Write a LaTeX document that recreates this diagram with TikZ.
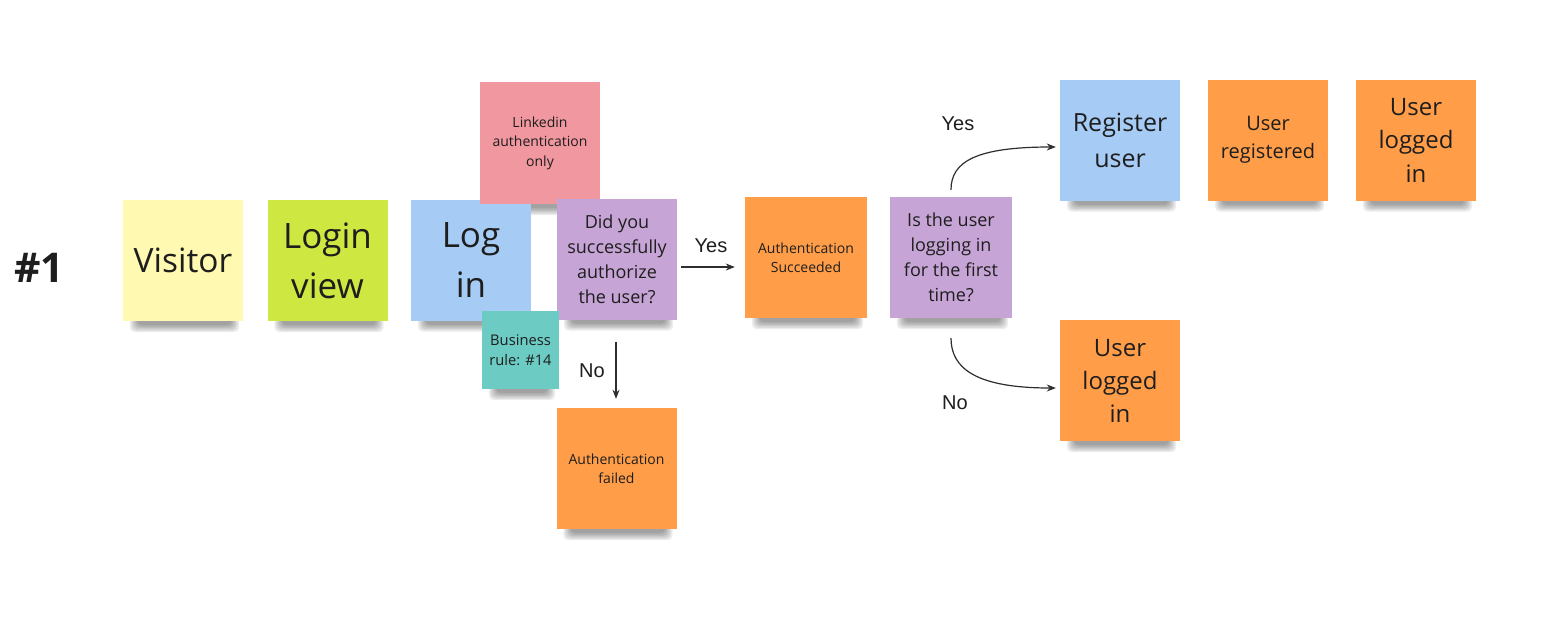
\documentclass[tikz,border=0pt]{standalone}
\usepackage{fontspec}
\setmainfont{Open Sans}
\newfontfamily\lblfont{Liberation Sans}
\usetikzlibrary{arrows.meta,backgrounds}
\definecolor{nyellow}{HTML}{FFF9B1}
\definecolor{ngreen}{HTML}{CEE741}
\definecolor{nblue}{HTML}{A6CCF5}
\definecolor{npink}{HTML}{F0979F}
\definecolor{npurple}{HTML}{C7A4D6}
\definecolor{nteal}{HTML}{6CCBC2}
\definecolor{norange}{HTML}{FF9D48}
\definecolor{ntext}{HTML}{1E1E1E}
\definecolor{nline}{HTML}{2E2E2E}
\begin{document}
\begin{tikzpicture}[x=1pt,y=1pt,
  note/.style={minimum width=120pt,minimum height=121pt,inner sep=2pt,align=center,text=ntext},
  big/.style={font=\fontsize{35}{50}\selectfont},
  mid/.style={font=\fontsize{18}{25}\selectfont},
  small/.style={font=\fontsize{14}{19.5}\selectfont},
  lbl/.style={font=\lblfont\fontsize{20}{24}\selectfont,text=ntext},
  conn/.style={draw=nline,line width=1.2pt,-{Stealth[length=9pt,width=7pt]}},
]
\useasboundingbox (0,0) rectangle (1557,-641);
% notes
\node[note,fill=nyellow,font=\fontsize{33.5}{50}\selectfont] (visitor) at (183,-260.5) {Visitor};
\node[note,fill=ngreen,big] (loginview) at (327.5,-260.5) {Login\\view};
\node[note,fill=nblue,big] (login) at (471,-260) {Log\\in};
\node[note,fill=npink,small,minimum height=122pt] (linkedin) at (540,-143) {Linkedin\\authentication\\only};
\node[note,fill=npurple,mid] (did) at (617,-259) {Did you\\successfully\\authorize\\the user?};
\node[note,fill=nteal,font=\fontsize{14.7}{20}\selectfont,minimum width=77pt,minimum height=78pt] (rule) at (520.5,-350) {Business\\rule: \#14};
\node[note,fill=norange,small] (failed) at (616.5,-468.5) {Authentication\\failed};
\node[note,fill=norange,small,minimum width=122pt] (succ) at (806,-257.5) {Authentication\\Succeeded};
\node[note,fill=npurple,mid,minimum width=122pt] (isuser) at (951,-257.5) {Is the user\\logging in\\for the first\\time?};
\node[note,fill=nblue,font=\fontsize{25}{36}\selectfont] (register) at (1120,-140) {Register\\user};
\node[note,fill=norange,font=\fontsize{20}{28}\selectfont] (registered) at (1268,-140) {User\\registered};
\node[note,fill=norange,font=\fontsize{24}{33.5}\selectfont] (logged1) at (1416,-140) {User\\logged\\in};
\node[note,fill=norange,font=\fontsize{24}{33}\selectfont] (logged2) at (1120,-380.5) {User\\logged\\in};
% title
\node[font=\bfseries\fontsize{41}{44}\selectfont,text=ntext] (num) at (39,-268) {\#1};
% labels
\node[lbl] (yes1) at (711,-246) {Yes};
\node[lbl] (no1) at (592,-371) {No};
\node[lbl] (yes2) at (958,-124) {Yes};
\node[lbl] (no2) at (955,-403) {No};
% connectors
\draw[conn,shorten <=4pt,shorten >=10pt] ([yshift=-8pt]did.east) -- ([yshift=-8pt]did.east -| succ.west);
\draw[conn,shorten <=22pt,shorten >=9pt] ([xshift=-1pt]did.south) -- ([xshift=-1pt]did.south |- failed.north);
\draw[conn] ([yshift=7pt]isuser.north) .. controls +(0,28) and +(-80,0) .. ([xshift=-4pt,yshift=-7pt]register.west);
\draw[conn] ([yshift=-20pt]isuser.south) .. controls +(0,-30) and +(-80,0) .. ([xshift=-4pt,yshift=-7.5pt]logged2.west);
% shadows
\begin{scope}[on background layer]
\fill[white] (0,0) rectangle (1557,-641);
\foreach \n in {visitor,loginview,login,linkedin,did,rule,failed,succ,isuser,register,registered,logged1,logged2}{
  \foreach \k in {0,...,5}{
    \fill[black,opacity=0.07,rounded corners=5pt] ([xshift={7pt+1.5pt*\k},yshift=4pt]\n.south west) rectangle ([xshift={-4pt-1.5pt*\k},yshift={-11pt+1.4pt*\k}]\n.south east);
  }
}
\end{scope}
\end{tikzpicture}
\end{document}
